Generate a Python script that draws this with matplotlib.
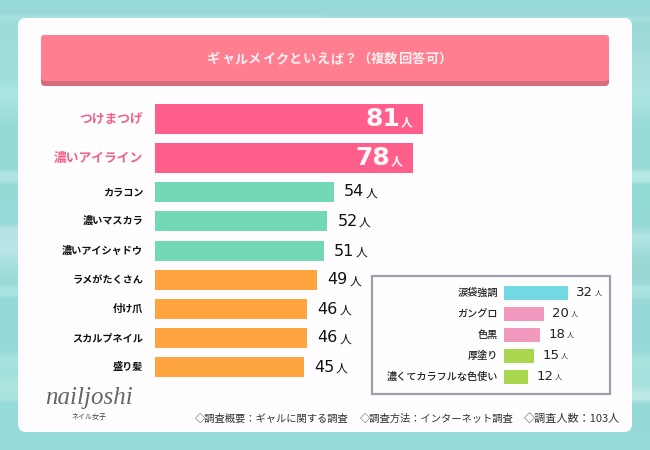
#!/usr/bin/env python3
"""Gal make survey chart, redrawn as out.png."""

import matplotlib

matplotlib.use("Agg")
import matplotlib.pyplot as plt
import numpy as np
from matplotlib.colors import to_rgb
from matplotlib.patches import FancyBboxPatch, Rectangle

plt.rcParams["font.family"] = ["Noto Sans CJK JP", "DejaVu Sans"]

W, H = 650, 450

# main chart
labels = ["つけまつげ", "濃いアイライン", "カラコン", "濃いマスカラ", "濃いアイシャドウ",
          "ラメがたくさん", "付け爪", "スカルプネイル", "盛り髪"]
values = [81, 78, 54, 52, 51, 49, 46, 46, 45]
colors = ["#FF5F8A", "#FF5F8A", "#72D8B6", "#72D8B6", "#72D8B6",
          "#FFA53F", "#FFA53F", "#FFA53F", "#FFA53F"]

# inset chart
sub_labels = ["涙袋強調", "ガングロ", "色黒", "厚塗り", "濃くてカラフルな色使い"]
sub_values = [32, 20, 18, 15, 12]
sub_colors = ["#75D9E3", "#F299BE", "#F299BE", "#A9D64E", "#A9D64E"]

title = "ギャルメイクといえば？（複数回答可）"
footer = ["◇調査概要：ギャルに関する調査", "◇調査方法：インターネット調査", "◇調査人数：103人"]

# pixel layout of the bars
MAIN_Y = [119, 158, 192, 221, 251, 280, 309, 338, 367]
MAIN_H = [30, 30, 20, 20, 20, 20, 20, 20, 20]
SUB_Y = [293, 314, 335, 356, 377]

# soft horizontal streaks of the page background (y, colour)
LEFT_STOPS = [(0, "#98D9DC"), (13, "#98D9DC"), (17, "#A8E2E0"), (24, "#9CDDD8"), (80, "#9FE0DA"),
              (90, "#ABE6E2"), (102, "#A6E2DE"), (125, "#96DCD4"), (168, "#95DAD4"), (173, "#B0E4E2"),
              (180, "#B0E4E2"), (184, "#96DAD8"), (222, "#97DADA"), (228, "#B4E3E6"), (250, "#B8E5E8"),
              (270, "#A0DCDC"), (284, "#99D9D8"), (287, "#A8E2E0"), (294, "#A8E2E0"), (298, "#97D9D8"),
              (350, "#97D9D8"), (358, "#A8E3DE"), (372, "#A2E0DC"), (385, "#AEE4E0"), (398, "#A8E2DC"),
              (404, "#97DADA"), (450, "#97DADA")]
RIGHT_STOPS = [(0, "#98D9DC"), (13, "#98D9DC"), (18, "#A8E0DE"), (24, "#9AD8D6"), (60, "#A6DEDC"),
               (95, "#ABE4E0"), (125, "#9ADCD8"), (168, "#97DAD6"), (172, "#B4E8E4"), (180, "#B4E8E4"),
               (184, "#93DAD6"), (225, "#96DAD8"), (236, "#B0E4E2"), (248, "#A6E0DE"), (258, "#9AD8D4"),
               (283, "#9AD9D6"), (287, "#ACE4E0"), (296, "#A8E2DE"), (300, "#97D9D8"), (350, "#97D9D8"),
               (358, "#A8E3DE"), (385, "#A4E0DC"), (392, "#BCE8E6"), (398, "#BCE8E6"), (404, "#92D8D4"),
               (432, "#97DADA"), (450, "#97DADA")]


def px_axes(fig, x0, y0, x1, y1):
    return fig.add_axes([x0 / W, 1 - y1 / H, (x1 - x0) / W, (y1 - y0) / H])


def streak_image(stops):
    ys = np.arange(H)
    rgb = np.array([to_rgb(c) for _, c in stops])
    pos = [y for y, _ in stops]
    return np.stack([np.interp(ys, pos, rgb[:, k]) for k in range(3)], axis=1)[:, None, :]


def main():
    fig = plt.figure(figsize=(W / 100, H / 100), dpi=100)

    # page in pixel coordinates: background, card, header
    bg = fig.add_axes([0, 0, 1, 1])
    bg.imshow(streak_image(LEFT_STOPS), extent=(0, 325, H, 0), aspect="auto")
    bg.imshow(streak_image(RIGHT_STOPS), extent=(325, W, H, 0), aspect="auto")
    bg.set_xlim(0, W)
    bg.set_ylim(H, 0)
    bg.axis("off")
    bg.add_patch(Rectangle((0, 0), W, 13, color="#98D9DC", lw=0))
    bg.add_patch(Rectangle((0, 432), W, 18, color="#97DBDA", lw=0))
    bg.add_patch(FancyBboxPatch((18, 18), 614, 414, boxstyle="round,pad=0,rounding_size=8",
                                fc="#FFFDFF", ec="none"))
    bg.add_patch(FancyBboxPatch((41, 35), 568, 51, boxstyle="round,pad=0,rounding_size=4",
                                fc="#D56D7C", ec="none"))
    bg.add_patch(FancyBboxPatch((41, 35), 568, 46, boxstyle="round,pad=0,rounding_size=4",
                                fc="#FF7F90", ec="none"))
    for i, ch in enumerate(title):
        bg.text(214 + 13.6 * i, 59, ch, color="#FFF0F2", fontsize=9.5, ha="center", va="center",
                fontweight="bold")

    # main bars
    ax = px_axes(fig, 155, 100, 455, 380)
    ax.barh(MAIN_Y, values, height=MAIN_H, color=colors)
    ax.set_xlim(0, 300 / 3.31)
    ax.set_ylim(380, 100)
    ax.axis("off")
    for i, (lab, val) in enumerate(zip(labels, values)):
        top = i < 2
        ax.annotate(lab, (0, MAIN_Y[i]), xytext=(-8.5, 0), textcoords="offset points",
                    ha="right", va="center", fontsize=9.2 if top else 7.3,
                    fontweight="bold", color="#EE6288" if top else "#111111",
                    annotation_clip=False)
        if top:
            ax.annotate(str(val), (val, MAIN_Y[i]), xytext=(-16.5, 0), textcoords="offset points",
                        ha="right", va="center", fontsize=18, fontweight="bold",
                        family="DejaVu Sans", color="#FFF8FA")
            ax.annotate("人", (val, MAIN_Y[i]), xytext=(-7.5, -3), textcoords="offset points",
                        ha="right", va="center", fontsize=8.5, fontweight="bold", color="#FFF8FA")
        else:
            ax.annotate(str(val), (val, MAIN_Y[i]), xytext=(7.5, 0), textcoords="offset points",
                        ha="left", va="center", fontsize=11.5, family="DejaVu Sans",
                        color="#111111")
            ax.annotate("人", (val, MAIN_Y[i]), xytext=(23, -1), textcoords="offset points",
                        ha="left", va="center", fontsize=8.5, color="#111111")

    # inset box and bars
    bg.add_patch(Rectangle((372, 276), 238, 118, fc="#FFFEFF", ec="#A09CA8", lw=1.6))
    sub = px_axes(fig, 504, 280, 600, 390)
    sub.barh(SUB_Y, sub_values, height=14, color=sub_colors)
    sub.set_xlim(0, 48)
    sub.set_ylim(390, 280)
    sub.axis("off")
    for i, (lab, val) in enumerate(zip(sub_labels, sub_values)):
        sub.annotate(lab, (0, SUB_Y[i]), xytext=(-4.5, 0), textcoords="offset points",
                     ha="right", va="center", fontsize=7.3, fontweight="medium",
                     color="#222222", annotation_clip=False)
        sub.annotate(str(val), (val, SUB_Y[i]), xytext=(6, 0), textcoords="offset points",
                     ha="left", va="center", fontsize=9.5, family="DejaVu Sans",
                     color="#222222")
        sub.annotate("人", (val, SUB_Y[i]), xytext=(19, -1), textcoords="offset points",
                     ha="left", va="center", fontsize=5, color="#222222")

    # logo and footer
    bg.text(89, 398, "nailjoshi", family="Liberation Serif", style="italic",
            fontsize=18, color="#666666", ha="center", va="center")
    bg.text(89, 417, "ネイル女子", fontsize=5, color="#444444", ha="center", va="center")
    for x, txt, size in zip([195, 360, 524], footer, [7.4, 7.4, 8]):
        bg.text(x, 418.5, txt, fontsize=size, color="#333333", ha="left", va="center")

    fig.savefig("out.png", dpi=100)


if __name__ == "__main__":
    main()
